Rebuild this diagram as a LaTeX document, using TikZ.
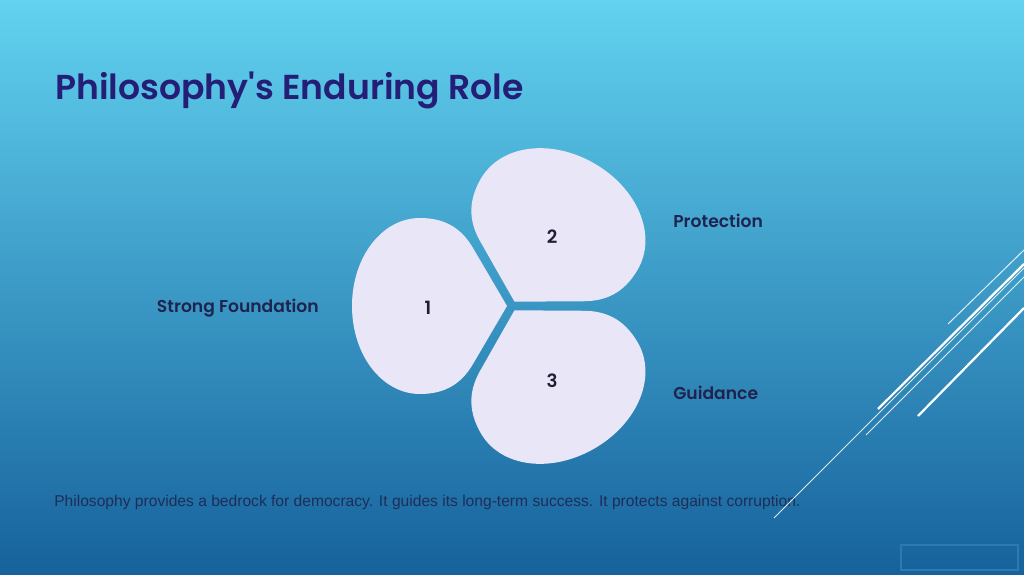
\documentclass[tikz,border=0pt]{standalone}
\usepackage{fontspec}
\setmainfont{Liberation Sans}
\newfontfamily\headfont{Poppins SemiBold}
\newfontfamily\labelfont{Poppins SemiBold}

\definecolor{bgtop}{RGB}{98,210,240}
\definecolor{bgmid}{RGB}{58,160,206}
\definecolor{bgbot}{RGB}{22,98,156}
\definecolor{petal}{RGB}{233,230,248}
\definecolor{titlenavy}{RGB}{36,30,118}
\definecolor{labelnavy}{RGB}{30,36,78}
\definecolor{numnavy}{RGB}{32,30,52}
\definecolor{bodynavy}{RGB}{30,46,88}
\definecolor{boxline}{RGB}{44,122,176}

% one petal, tip at the origin, pointing along +x
\newcommand{\petalshape}{(0,0) -- (34,58) .. controls (44,75) and (59,88) .. (87,88)
  .. controls (125,88) and (155,49) .. (155,0)
  .. controls (155,-49) and (125,-88) .. (87,-88)
  .. controls (59,-88) and (44,-75) .. (34,-58) -- cycle}

\begin{document}
\begin{tikzpicture}[x=0.025cm, y=0.025cm,
    petalfill/.style={fill=petal},
    labeltext/.style={font=\labelfont\fontsize{12.2}{15}\selectfont, text=labelnavy, inner sep=0pt},
    numtext/.style={font=\labelfont\fontsize{13}{15}\selectfont, text=numnavy, inner sep=0pt, anchor=base},
    slice/.style={draw=white, draw opacity=0.85, line width=0.7pt},
    slicebold/.style={draw=white, line width=1.6pt}]
    % Background
    \shade[top color=bgtop, middle color=bgmid, bottom color=bgbot] (0,0) rectangle (1024,-574);
    \useasboundingbox (0,0) rectangle (1024,-574);

    % Petals
    \fill[petalfill, shift={(507,-306)}, rotate=180] \petalshape;
    \fill[petalfill, shift={(514.5,-301.7)}, rotate=60, scale=1.03] \petalshape;
    \fill[petalfill, shift={(514.5,-310.3)}, rotate=-60, scale=1.03] \petalshape;

    % Nodes
    \node (title) [anchor=base west, inner sep=0pt, text=titlenavy, font=\headfont\fontsize{24.6}{28}\selectfont] at (55,-99) {Philosophy's Enduring Role};
    \node (num1) [numtext] at (428,-314) {1};
    \node (num2) [numtext] at (552,-243) {2};
    \node (num3) [numtext] at (552,-387) {3};
    \node (found) [labeltext, anchor=base east] at (319,-312) {Strong Foundation};
    \node (prot) [labeltext, anchor=base west] at (673,-227) {Protection};
    \node (guide) [labeltext, anchor=base west] at (673,-399) {Guidance};
    \node (body) [anchor=base west, inner sep=0pt, text=bodynavy, font=\fontsize{11.1}{13}\selectfont] at (54,-506) {Philosophy provides a bedrock for democracy. It guides its long-term success. It protects against corruption.};

    % Slice lines
    \draw[slice] (948,-324) -- (1024,-250);
    \draw[slicebold] (878,-409) -- (1024,-264);
    \draw[slice] (866,-435) -- (1024,-277);
    \draw[slice] (774,-518) -- (1024,-268);
    \draw[slicebold] (918,-416) -- (1024,-308);

    % Footer box
    \draw[boxline, line width=0.8pt] (901,-545) rectangle (1018,-570);
\end{tikzpicture}
\end{document}
